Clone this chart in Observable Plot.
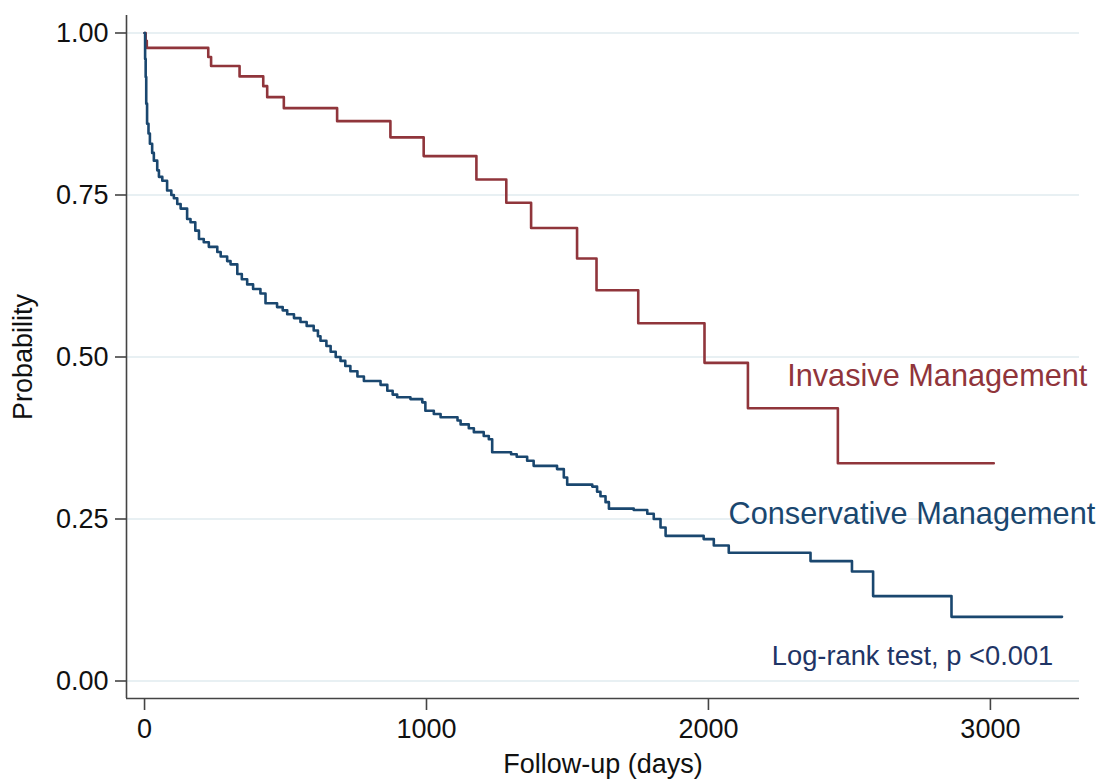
<!DOCTYPE html>
<html>
<head>
<meta charset="utf-8">
<script src="https://cdn.jsdelivr.net/npm/d3@7"></script>
<script src="https://cdn.jsdelivr.net/npm/@observablehq/plot@0.6"></script>
<style>
  html, body { margin: 0; padding: 0; background: #fff; overflow: hidden; }
  #chart svg { display: block; }
</style>
</head>
<body>
<div id="chart"></div>
<script>
// ---- Data ----
const invasiveDays = [0, 4, 8, 226, 236, 337, 421, 435, 494, 683, 872, 990, 1177, 1283, 1371, 1534, 1603, 1751, 1986, 2140, 2459, 3012];
const invasiveSurv = [1.000, 0.988, 0.977, 0.963, 0.949, 0.933, 0.918, 0.901, 0.884, 0.864, 0.839, 0.810, 0.774, 0.738, 0.699, 0.652, 0.603, 0.552, 0.491, 0.421, 0.336, 0.336];

const conservativeDays = [0, 2, 4, 6, 9, 14, 19, 27, 33, 45, 51, 63, 80, 95, 104, 116, 128, 151, 163, 180, 193, 210, 228, 258, 270, 293, 305, 329, 345, 364, 385, 411, 429, 470, 490, 506, 530, 553, 575, 600, 615, 624, 645, 660, 678, 695, 712, 730, 755, 778, 837, 861, 880, 896, 943, 985, 996, 1026, 1050, 1110, 1121, 1150, 1168, 1203, 1221, 1233, 1300, 1320, 1357, 1380, 1463, 1487, 1499, 1588, 1605, 1617, 1635, 1647, 1735, 1783, 1806, 1830, 1848, 1983, 2019, 2072, 2362, 2509, 2584, 2862, 3254];
const conservativeSurv = [1.000, 0.960, 0.932, 0.891, 0.860, 0.845, 0.829, 0.815, 0.803, 0.788, 0.778, 0.772, 0.757, 0.750, 0.745, 0.736, 0.729, 0.713, 0.708, 0.695, 0.682, 0.677, 0.670, 0.662, 0.655, 0.648, 0.643, 0.628, 0.620, 0.612, 0.605, 0.598, 0.583, 0.577, 0.572, 0.566, 0.560, 0.554, 0.548, 0.541, 0.532, 0.525, 0.517, 0.508, 0.500, 0.494, 0.486, 0.478, 0.470, 0.463, 0.457, 0.448, 0.442, 0.438, 0.435, 0.430, 0.417, 0.412, 0.407, 0.402, 0.396, 0.390, 0.384, 0.378, 0.373, 0.353, 0.350, 0.346, 0.340, 0.332, 0.327, 0.314, 0.303, 0.300, 0.292, 0.285, 0.276, 0.266, 0.264, 0.258, 0.250, 0.237, 0.224, 0.219, 0.209, 0.198, 0.185, 0.169, 0.131, 0.099, 0.099];

const seriesNames = ["Invasive Management", "Conservative Management"];
const seriesColors = ["#90353b", "#1a476f"];
const testLabel = "Log-rank test, p <0.001";
const xTicks = [0, 1000, 2000, 3000];
const yTicks = [0, 0.25, 0.5, 0.75, 1];
const xTitle = "Follow-up (days)";
const yTitle = "Probability";

// ---- Build table ----
const rows = [
  ...invasiveDays.map((t, i) => ({series: seriesNames[0], t, s: invasiveSurv[i]})),
  ...conservativeDays.map((t, i) => ({series: seriesNames[1], t, s: conservativeSurv[i]}))
];

const xDomain = [-64, 3316];
const yDomain = [-0.027, 1.027];
const font = "'Liberation Sans', Arial, Helvetica, sans-serif";

const chart = Plot.plot({
  width: 1102,
  height: 780,
  marginLeft: 126,
  marginRight: 23,
  marginTop: 15,
  marginBottom: 82,
  style: {fontFamily: font, background: "#fff", overflow: "visible", color: "#222"},
  x: {domain: xDomain, axis: null},
  y: {domain: yDomain, axis: null},
  color: {domain: seriesNames, range: seriesColors},
  marks: [
    Plot.gridY(yTicks, {stroke: "#e1ebef", strokeOpacity: 1, strokeWidth: 1.6}),
    Plot.ruleX([xDomain[0]], {stroke: "#444", strokeWidth: 1.6}),
    Plot.ruleY([yDomain[0]], {stroke: "#444", strokeWidth: 1.6}),
    Plot.axisY(yTicks, {tickFormat: d3.format(".2f"), tickSize: 11, tickPadding: 7, fontSize: 27, stroke: "#444", strokeWidth: 1.6, fill: "#111", label: null}),
    Plot.axisX(xTicks, {tickFormat: d3.format("d"), tickSize: 12, tickPadding: 8, fontSize: 27, stroke: "#444", strokeWidth: 1.6, fill: "#111", label: null}),
    Plot.line(rows, {x: "t", y: "s", z: "series", stroke: "series", strokeWidth: 2.6, curve: "step-after"}),
    Plot.text([{t: 3344, s: 0.470, label: seriesNames[0]}], {x: "t", y: "s", text: "label", textAnchor: "end", fontSize: 30.7, fill: seriesColors[0]}),
    Plot.text([{t: 3372, s: 0.257, label: seriesNames[1]}], {x: "t", y: "s", text: "label", textAnchor: "end", fontSize: 30.7, fill: seriesColors[1]}),
    Plot.text([{t: 3223, s: 0.0386, label: testLabel}], {x: "t", y: "s", text: "label", textAnchor: "end", fontSize: 27.3, fill: "#1f3566"}),
    Plot.text([xTitle], {frameAnchor: "bottom", dy: 66, lineAnchor: "middle", textAnchor: "middle", fontSize: 27, fill: "#111"}),
    Plot.text([yTitle], {frameAnchor: "left", dx: -103, rotate: -90, lineAnchor: "middle", textAnchor: "middle", fontSize: 27, fill: "#111"})
  ]
});
document.getElementById("chart").append(chart);
</script>
</body>
</html>
